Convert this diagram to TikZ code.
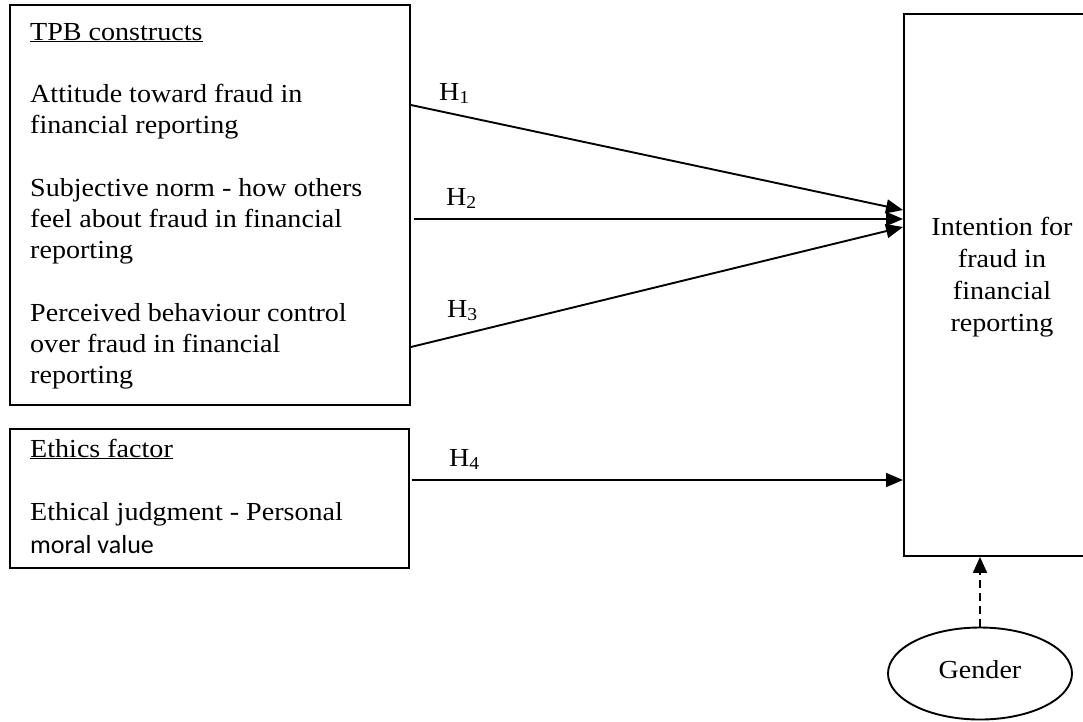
\documentclass[tikz,border=0pt]{standalone}
\usepackage{fontspec}
\setmainfont{Liberation Serif}[FakeStretch=1.08]
\newfontfamily\calibrifont{Carlito}
\usetikzlibrary{arrows.meta,shapes.geometric}
\begin{document}
\begin{tikzpicture}[x=1pt,y=-1pt,
  every node/.style={font=\fontsize{26}{31}\selectfont},
  boxnode/.style={draw,line width=1.9pt,inner sep=0pt,anchor=north west},
  txt/.style={anchor=base west,inner sep=0pt},
  hlabel/.style={anchor=base west,inner sep=0pt},
  arr/.style={line width=1.9pt,-{Triangle[length=17pt,width=14pt]}},
  darr/.style={line width=1.9pt,dash pattern=on 8pt off 5pt,-{Triangle[length=16pt,width=14pt]}}
]
\useasboundingbox (0,0) rectangle (1083,721);
\clip (0,0) rectangle (1083,721);
\fill[white] (0,0) rectangle (1083,721);

% boxes
\node[boxnode,minimum width=400pt,minimum height=400pt] (tpb) at (9,4) {};
\node[boxnode,minimum width=399pt,minimum height=139pt] (eth) at (9,428) {};
\node[boxnode,minimum width=200pt,minimum height=542pt] (int) at (903,13) {};
\node[draw,ellipse,line width=1.9pt,minimum width=184pt,minimum height=92pt,inner sep=0pt] (gen) at (980,673.5) {};

% left texts
\node[txt] (t0) at (30,40) {\underline{TPB constructs}};
\node[txt] (t1) at (30,102) {Attitude toward fraud in};
\node[txt] (t2) at (30,133) {financial reporting};
\node[txt] (t3) at (30,196) {Subjective norm - how others};
\node[txt] (t4) at (30,227) {feel about fraud in financial};
\node[txt] (t5) at (30,258) {reporting};
\node[txt] (t6) at (30,321) {Perceived behaviour control};
\node[txt] (t7) at (30,352) {over fraud in financial};
\node[txt] (t8) at (30,383) {reporting};
\node[txt] (e0) at (30,457) {\underline{Ethics factor}};
\node[txt] (e1) at (30,520) {Ethical judgment - Personal};
\node[txt] (e2) at (30,553) {\calibrifont moral value};

% right box text
\node[anchor=base,inner sep=0pt] (r1) at (1002,235) {Intention for};
\node[anchor=base,inner sep=0pt] (r2) at (1002,267) {fraud in};
\node[anchor=base,inner sep=0pt] (r3) at (1002,299) {financial};
\node[anchor=base,inner sep=0pt] (r4) at (1002,331) {reporting};

% gender text
\node[anchor=base,inner sep=0pt] (g1) at (gen.center |- 0,678) {Gender};

% hypothesis labels
\node[hlabel] (h1) at (439,100) {H\textsubscript{1}};
\node[hlabel] (h2) at (446,205) {H\textsubscript{2}};
\node[hlabel] (h3) at (447,317) {H\textsubscript{3}};
\node[hlabel] (h4) at (449,466) {H\textsubscript{4}};

% arrows
\draw[arr] (tpb.north east |- 0,105) -- (int.north west |- 0,210);
\draw[arr] ([xshift=3pt]tpb.north east |- 0,219) -- (int.north west |- 0,219);
\draw[arr] (tpb.north east |- 0,347) -- (int.north west |- 0,227);
\draw[arr] ([xshift=2pt]eth.north east |- 0,480) -- (int.north west |- 0,480);
\draw[darr] (gen.north) -- (gen.north |- int.south);
\end{tikzpicture}
\end{document}
